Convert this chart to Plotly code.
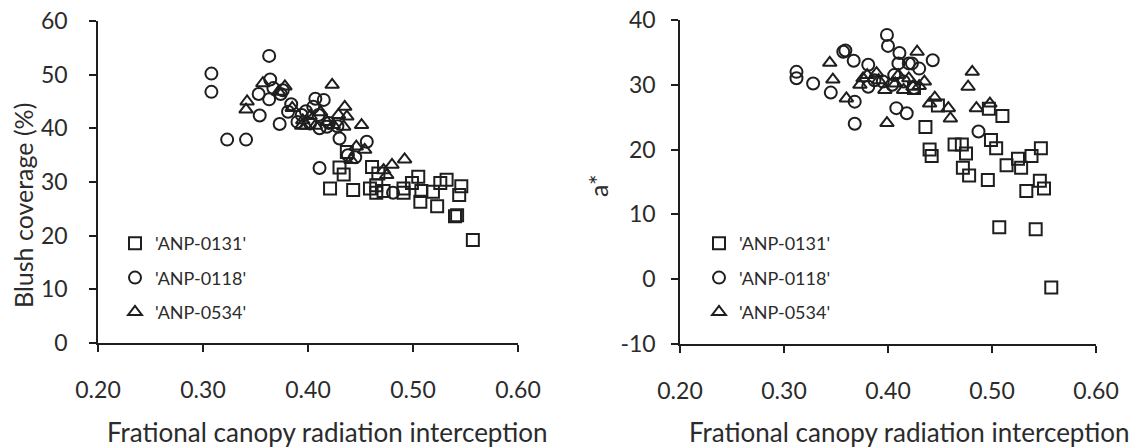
import plotly.graph_objects as go

# ---------------- data: left panel (Blush coverage %) ----------------
left_0131_x = [0.437, 0.430, 0.434, 0.461, 0.467, 0.421, 0.443, 0.459, 0.465, 0.472, 0.465, 0.491, 0.491,
               0.499, 0.505, 0.508, 0.507, 0.519, 0.526, 0.532, 0.523, 0.540, 0.542, 0.546, 0.544, 0.557]
left_0131_y = [35.6, 32.7, 31.4, 32.8, 31.6, 28.8, 28.5, 28.8, 28.0, 28.3, 29.4, 28.8, 28.0,
               29.8, 31.0, 28.3, 26.3, 28.2, 29.8, 30.4, 25.5, 23.6, 23.8, 29.2, 27.6, 19.2]

left_0118_x = [0.363, 0.308, 0.308, 0.364, 0.353, 0.363, 0.354, 0.373, 0.323, 0.341, 0.376, 0.374, 0.384,
               0.381, 0.394, 0.405, 0.411, 0.415, 0.430, 0.456, 0.481, 0.402, 0.411, 0.418, 0.438, 0.390,
               0.398, 0.410, 0.420, 0.428, 0.407, 0.445, 0.367]
left_0118_y = [53.5, 50.2, 46.8, 49.1, 46.4, 45.4, 42.4, 40.8, 37.9, 37.9, 47.1, 46.4, 44.5,
               43.1, 42.5, 44.0, 32.6, 45.3, 38.1, 37.5, 28.0, 40.9, 40.0, 40.3, 35.0, 41.2,
               43.2, 42.5, 41.0, 40.4, 45.5, 34.6, 47.5]

left_0534_x = [0.357, 0.342, 0.341, 0.394, 0.423, 0.435, 0.437, 0.429, 0.451, 0.446, 0.454, 0.441,
               0.492, 0.480, 0.472, 0.475, 0.424, 0.434, 0.372, 0.378, 0.395, 0.402, 0.412, 0.418,
               0.407, 0.385, 0.398]
left_0534_y = [48.4, 45.0, 43.5, 40.5, 48.1, 44.0, 42.2, 42.5, 40.6, 36.6, 36.0, 34.1,
               34.2, 33.2, 32.2, 31.3, 40.6, 40.3, 46.8, 47.8, 41.5, 42.3, 43.0, 41.2,
               40.5, 43.8, 40.5]

# ---------------- data: right panel (a*) ----------------
right_0131_x = [0.436, 0.440, 0.442, 0.464, 0.471, 0.475, 0.472, 0.478, 0.496, 0.499, 0.504, 0.510,
                0.497, 0.448, 0.514, 0.525, 0.528, 0.538, 0.547, 0.546, 0.533, 0.550, 0.507, 0.542,
                0.557, 0.425]
right_0131_y = [23.5, 20.0, 19.0, 20.8, 20.8, 19.4, 17.2, 16.0, 15.3, 21.5, 20.2, 25.2,
                26.3, 26.8, 17.6, 18.6, 17.2, 19.0, 20.2, 15.2, 13.6, 14.0, 8.0, 7.7,
                -1.3, 29.5]

right_0118_x = [0.399, 0.400, 0.357, 0.359, 0.367, 0.381, 0.312, 0.312, 0.328, 0.345, 0.368, 0.368,
                0.408, 0.418, 0.411, 0.410, 0.420, 0.423, 0.381, 0.387, 0.487, 0.406, 0.415, 0.430,
                0.443, 0.425, 0.395, 0.404]
right_0118_y = [37.7, 36.0, 35.1, 35.3, 33.7, 33.1, 32.0, 31.0, 30.2, 28.8, 27.4, 24.0,
                26.4, 25.6, 34.9, 33.3, 33.3, 33.3, 29.7, 30.7, 22.8, 31.5, 30.5, 32.5,
                33.8, 29.5, 30.5, 30.0]

right_0534_x = [0.344, 0.347, 0.360, 0.376, 0.380, 0.389, 0.391, 0.373, 0.397, 0.399, 0.407, 0.415,
                0.428, 0.424, 0.460, 0.485, 0.498, 0.440, 0.458, 0.481, 0.477, 0.435, 0.445, 0.420,
                0.430, 0.410]
right_0534_y = [33.4, 30.8, 27.9, 31.0, 31.5, 31.8, 30.7, 30.0, 29.2, 24.1, 30.2, 29.2,
                35.1, 29.7, 24.8, 26.4, 27.1, 27.1, 26.4, 32.0, 29.7, 30.5, 28.0, 31.0,
                29.8, 31.5]

names = ["'ANP-0131'", "'ANP-0118'", "'ANP-0534'"]
symbols = ["square-open", "circle-open", "triangle-up-open"]
x_ticks = [0.2, 0.3, 0.4, 0.5, 0.6]
x_ticktext = ["0.20", "0.30", "0.40", "0.50", "0.60"]
left_yticks = [0, 10, 20, 30, 40, 50, 60]
right_yticks = [-10, 0, 10, 20, 30, 40]
right_yticktext = ["-10", "0", "10", "20", "30", "40"]
x_title = "Frational canopy radiation interception"
left_ytitle = "Blush coverage (%)"
right_ytitle = "a*"

INK = "#1e1e1e"
TXT = "#2b2b2b"
FONT = "Lato"
W, H = 1136, 448

fig = go.Figure()

left_sets = [(left_0131_x, left_0131_y), (left_0118_x, left_0118_y), (left_0534_x, left_0534_y)]
right_sets = [(right_0131_x, right_0131_y), (right_0118_x, right_0118_y), (right_0534_x, right_0534_y)]

for i, (xs, ys) in enumerate(left_sets):
    fig.add_trace(go.Scatter(
        x=xs, y=ys, mode="markers", name=names[i], legendgroup="L%d" % i, legend="legend",
        marker=dict(symbol=symbols[i], size=12, color=INK, line=dict(width=2, color=INK)),
        xaxis="x", yaxis="y"))

for i, (xs, ys) in enumerate(right_sets):
    fig.add_trace(go.Scatter(
        x=xs, y=ys, mode="markers", name=names[i], legendgroup="R%d" % i, legend="legend2",
        marker=dict(symbol=symbols[i], size=12, color=INK, line=dict(width=2, color=INK)),
        xaxis="x2", yaxis="y2"))

axis_common = dict(showline=True, linecolor=INK, linewidth=1.5, ticks="outside", ticklen=7,
                   tickwidth=1.5, tickcolor=INK, showgrid=False, zeroline=False, automargin=False,
                   tickfont=dict(family=FONT, size=23, color=TXT))

L_X0, L_X1, L_Y0, L_Y1 = 98, 518, 343, 21
R_X0, R_X1, R_Y0, R_Y1 = 680, 1096, 344, 20

fig.update_layout(
    width=W, height=H, autosize=False,
    margin=dict(l=0, r=0, t=0, b=0),
    paper_bgcolor="white", plot_bgcolor="white",
    font=dict(family=FONT, color=TXT),
    xaxis=dict(axis_common, domain=[L_X0 / W, L_X1 / W], range=[0.2, 0.6], tickvals=x_ticks,
               ticktext=x_ticktext, anchor="y", ticklabelstandoff=19),
    yaxis=dict(axis_common, domain=[(H - L_Y0) / H, (H - L_Y1) / H], range=[0, 60], tickvals=left_yticks,
               anchor="x", ticklabelstandoff=17),
    xaxis2=dict(axis_common, domain=[R_X0 / W, R_X1 / W], range=[0.2, 0.6], tickvals=x_ticks,
                ticktext=x_ticktext, anchor="y2", ticklabelstandoff=19),
    yaxis2=dict(axis_common, domain=[(H - R_Y0) / H, (H - R_Y1) / H], range=[-10, 40], tickvals=right_yticks,
                ticktext=right_yticktext, anchor="x2", ticklabelstandoff=11),
    legend=dict(x=115 / W, y=(H - 225) / H, xanchor="left", yanchor="top", bgcolor="rgba(0,0,0,0)",
                font=dict(family=FONT, size=18, color=TXT), tracegroupgap=8),
    legend2=dict(x=699 / W, y=(H - 225) / H, xanchor="left", yanchor="top", bgcolor="rgba(0,0,0,0)",
                 font=dict(family=FONT, size=18, color=TXT), tracegroupgap=8),
    annotations=[
        dict(text=x_title, xref="paper", yref="paper", x=327 / W, y=(H - 432) / H,
             xanchor="center", yanchor="middle", showarrow=False, font=dict(family=FONT, size=26, color=TXT)),
        dict(text=x_title, xref="paper", yref="paper", x=909 / W, y=(H - 432) / H,
             xanchor="center", yanchor="middle", showarrow=False, font=dict(family=FONT, size=26, color=TXT)),
        dict(text=left_ytitle, xref="paper", yref="paper", x=23 / W, y=(H - 206) / H, textangle=-90,
             xanchor="center", yanchor="middle", showarrow=False, font=dict(family=FONT, size=25, color=TXT)),
        dict(text=right_ytitle, xref="paper", yref="paper", x=598 / W, y=(H - 186) / H, textangle=-90,
             xanchor="center", yanchor="middle", showarrow=False, font=dict(family=FONT, size=25, color=TXT)),
    ],
)

fig.write_html("out.html")
